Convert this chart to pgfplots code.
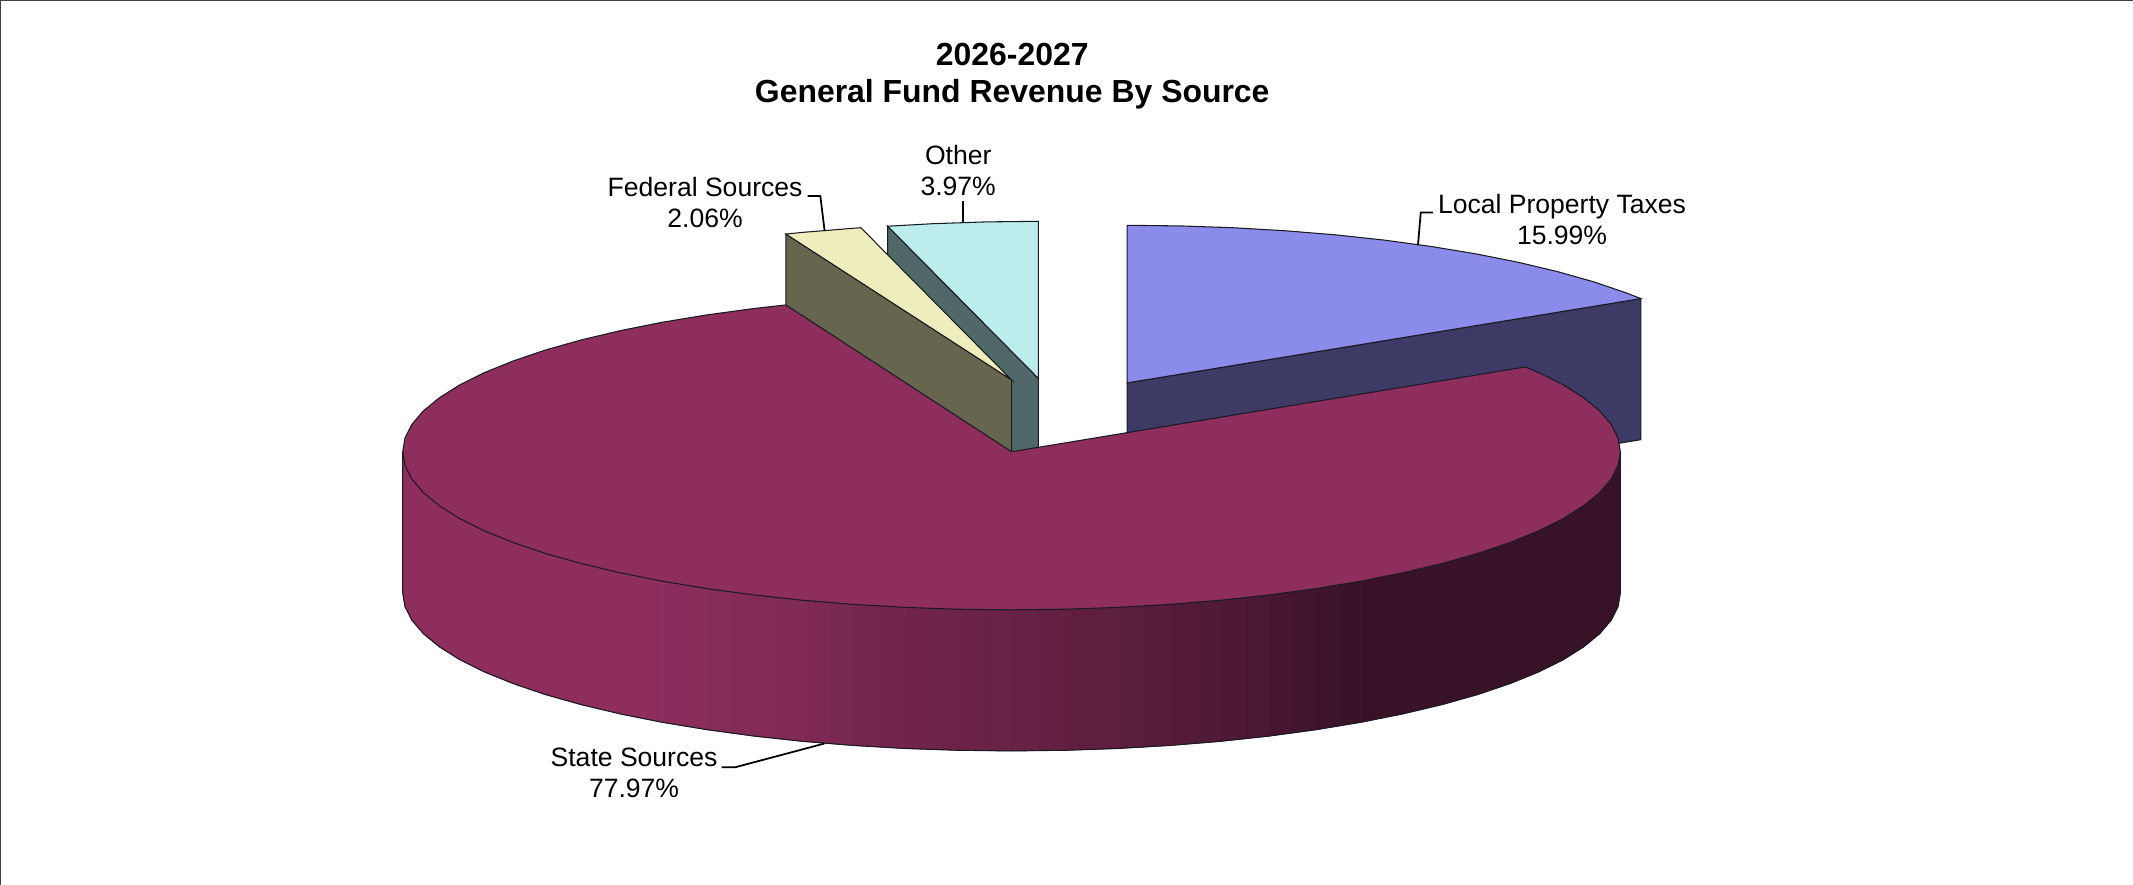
\documentclass[border=0pt]{standalone}
\usepackage{fontspec}
\setmainfont{Liberation Sans}
\usepackage{pgfplots}
\pgfplotsset{compat=1.18}

% Slice colours: top faces and side walls
\definecolor{stateTop}{HTML}{8D2E5D}
\definecolor{stateDark}{HTML}{381226}
\definecolor{localTop}{HTML}{8B8BEC}
\definecolor{localSide}{HTML}{3D3B66}
\definecolor{fedTop}{HTML}{EEEEBC}
\definecolor{fedSide}{HTML}{66664F}
\definecolor{otherTop}{HTML}{BCECEC}
\definecolor{otherSide}{HTML}{506868}
\definecolor{edge}{HTML}{1A1A22}

\tikzset{
  slice/.style={draw=edge, line width=0.3pt},
  leader/.style={draw=black, line width=0.5pt},
  lbl/.style={font=\fontsize{7.55}{8.9}\selectfont, align=center, inner sep=0pt},
}

% One vertical strip of the shaded rim of the large slice: #1 = share of the light colour
\newcommand{\rimstrip}[2]{%
  \addplot[draw=stateTop!#1!stateDark, fill=stateTop!#1!stateDark, line width=0.2pt]
    coordinates {#2} -- cycle;}

\begin{document}
\begin{tikzpicture}
\begin{axis}[
  scale only axis, width=21.34cm, height=8.85cm,
  xmin=0, xmax=2134, ymin=0, ymax=885, y dir=reverse,
  hide axis, no markers,
]
% Chart frame
\addplot[draw=black!75, line width=0.4pt] coordinates {(1.5,885)(1.5,1.5)(2132.5,1.5)};
\addplot[draw=black!15, line width=0.4pt] coordinates {(2133,1.5)(2133,885)};

% Other, 3.97%
\addplot[slice, fill=otherSide] coordinates {(888.0,226.9)(1038.6,379)(1038.6,520)(888.0,368)} -- cycle;
\addplot[slice, fill=otherTop] coordinates {(1038.6,379)(888.0,226.9)(932.9,224.4)(985.6,222.6)(1038.6,222)} -- cycle;

% Federal Sources, 2.06%
\addplot[slice, fill=fedSide] coordinates {(786.3,234.75)(1011.8,380.5)(1011.8,521.5)(786.3,375.75)} -- cycle;
\addplot[slice, fill=fedTop] coordinates {(1011.8,380.5)(786.3,234.75)(803.7,233)(854.3,228.9)(861.2,228.4)} -- cycle;

% Local Property Taxes, 15.99%
\addplot[slice, fill=localSide] coordinates {(1127.3,383.5)(1640.8,299.25)(1640.8,440.25)(1127.3,524.5)} -- cycle;
\addplot[slice, fill=localTop] coordinates {(1127.3,383.5)(1127.3,226)(1180.3,226.6)(1233.0,228.4)(1284.8,231.4)
  (1335.4,235.5)(1384.5,240.8)(1431.6,247.2)(1476.3,254.6)(1518.4,263)(1557.6,272.3)(1593.4,282.4)(1625.8,293.4)(1640.8,299.25)} -- cycle;

% State Sources, 77.97%: rim, dark part on the right
\rimstrip{0}{(1620.3,452.3)(1618.0,466.1)(1611.1,479.7)(1599.6,493.2)(1583.6,506.3)(1563.3,519.1)(1538.8,531.3)(1510.3,542.9)(1477.9,553.9)(1442.1,564.0)(1402.9,573.3)(1381.85,577.5)
  (1381.85,718.5)(1402.9,714.3)(1442.1,705.0)(1477.9,694.9)(1510.3,683.9)(1538.8,672.3)(1563.3,660.1)(1583.6,647.3)(1599.6,634.2)(1611.1,620.7)(1618.0,607.1)(1620.3,593.3)}
% Rim, graded strips towards the light side
\rimstrip{1}{(1381.85,577.5)(1360.8,581.7)(1360.8,722.7)(1381.85,718.5)}
\rimstrip{4}{(1360.8,581.7)(1338.45,585.4)(1338.45,726.4)(1360.8,722.7)}
\rimstrip{8}{(1338.45,585.4)(1316.1,589.1)(1316.1,730.1)(1338.45,726.4)}
\rimstrip{12}{(1316.1,589.1)(1292.55,592.3)(1292.55,733.3)(1316.1,730.1)}
\rimstrip{16}{(1292.55,592.3)(1269.0,595.5)(1269.0,736.5)(1292.55,733.3)}
\rimstrip{21}{(1269.0,595.5)(1244.45,598.15)(1244.45,739.15)(1269.0,736.5)}
\rimstrip{25}{(1244.45,598.15)(1219.9,600.8)(1219.9,741.8)(1244.45,739.15)}
\rimstrip{29}{(1219.9,600.8)(1194.6,602.85)(1194.6,743.85)(1219.9,741.8)}
\rimstrip{33}{(1194.6,602.85)(1169.3,604.9)(1169.3,745.9)(1194.6,743.85)}
\rimstrip{37}{(1169.3,604.9)(1143.4,606.4)(1143.4,747.4)(1169.3,745.9)}
\rimstrip{42}{(1143.4,606.4)(1117.5,607.9)(1117.5,748.9)(1143.4,747.4)}
\rimstrip{45}{(1117.5,607.9)(1091.15,608.8)(1091.15,749.8)(1117.5,748.9)}
\rimstrip{48}{(1091.15,608.8)(1064.8,609.7)(1064.8,750.7)(1091.15,749.8)}
\rimstrip{51}{(1064.8,609.7)(1038.3,610.0)(1038.3,751.0)(1064.8,750.7)}
\rimstrip{54}{(1038.3,610.0)(1011.8,610.3)(1011.8,751.3)(1038.3,751.0)}
\rimstrip{57}{(1011.8,610.3)(985.3,610.0)(985.3,751.0)(1011.8,751.3)}
\rimstrip{60}{(985.3,610.0)(958.8,609.7)(958.8,750.7)(985.3,751.0)}
\rimstrip{63}{(958.8,609.7)(932.45,608.8)(932.45,749.8)(958.8,750.7)}
\rimstrip{66}{(932.45,608.8)(906.1,607.9)(906.1,748.9)(932.45,749.8)}
\rimstrip{69}{(906.1,607.9)(880.2,606.4)(880.2,747.4)(906.1,748.9)}
\rimstrip{73}{(880.2,606.4)(854.3,604.9)(854.3,745.9)(880.2,747.4)}
\rimstrip{77}{(854.3,604.9)(829.0,602.85)(829.0,743.85)(854.3,745.9)}
\rimstrip{81}{(829.0,602.85)(803.7,600.8)(803.7,741.8)(829.0,743.85)}
\rimstrip{85}{(803.7,600.8)(779.15,598.15)(779.15,739.15)(803.7,741.8)}
\rimstrip{88}{(779.15,598.15)(754.6,595.5)(754.6,736.5)(779.15,739.15)}
\rimstrip{90}{(754.6,595.5)(731.1,592.3)(731.1,733.3)(754.6,736.5)}
\rimstrip{92}{(731.1,592.3)(707.6,589.1)(707.6,730.1)(731.1,733.3)}
\rimstrip{95}{(707.6,589.1)(685.2,585.4)(685.2,726.4)(707.6,730.1)}
\rimstrip{98}{(685.2,585.4)(662.8,581.7)(662.8,722.7)(685.2,726.4)}
% Rim, light part on the left
\rimstrip{100}{(662.8,581.7)(620.7,573.3)(581.5,564.0)(545.7,553.9)(513.4,542.9)(484.8,531.3)(460.3,519.1)(440.0,506.3)(424.0,493.2)(412.5,479.7)(405.6,466.1)(403.3,452.3)
  (403.3,593.3)(405.6,607.1)(412.5,620.7)(424.0,634.2)(440.0,647.3)(460.3,660.1)(484.8,672.3)(513.4,683.9)(545.7,694.9)(581.5,705.0)(620.7,714.3)(662.8,722.7)}
% Rim outline
\addplot[slice] coordinates {(1620.3,452.3)(1620.3,593.3)(1618.0,607.1)(1611.1,620.7)(1599.6,634.2)(1583.6,647.3)(1563.3,660.1)(1538.8,672.3)(1510.3,683.9)(1477.9,694.9)(1442.1,705.0)(1402.9,714.3)(1360.8,722.7)(1316.1,730.1)(1269.0,736.5)(1219.9,741.8)(1169.3,745.9)(1117.5,748.9)(1064.8,750.7)(1011.8,751.3)(958.8,750.7)(906.1,748.9)(854.3,745.9)(803.7,741.8)(754.6,736.5)(707.6,730.1)(662.8,722.7)(620.7,714.3)(581.5,705.0)(545.7,694.9)(513.4,683.9)(484.8,672.3)(460.3,660.1)(440.0,647.3)(424.0,634.2)(412.5,620.7)(405.6,607.1)(403.3,593.3)(403.3,452.3)};

% State Sources, top face
\addplot[slice, fill=stateTop] coordinates {(1011.8,452.3)(1525.3,367.55)(1538.8,373.3)(1563.3,385.5)(1583.6,398.3)(1599.6,411.4)(1611.1,424.9)(1618.0,438.5)(1620.3,452.3)
  (1618.0,466.1)(1611.1,479.7)(1599.6,493.2)(1583.6,506.3)(1563.3,519.1)(1538.8,531.3)(1510.3,542.9)(1477.9,553.9)(1442.1,564.0)(1402.9,573.3)(1360.8,581.7)(1316.1,589.1)(1269.0,595.5)(1219.9,600.8)(1169.3,604.9)(1117.5,607.9)(1064.8,609.7)(1011.8,610.3)
  (958.8,609.7)(906.1,607.9)(854.3,604.9)(803.7,600.8)(754.6,595.5)(707.6,589.1)(662.8,581.7)(620.7,573.3)(581.5,564.0)(545.7,553.9)(513.4,542.9)(484.8,531.3)(460.3,519.1)(440.0,506.3)(424.0,493.2)(412.5,479.7)(405.6,466.1)(403.3,452.3)
  (405.6,438.5)(412.5,424.9)(424.0,411.4)(440.0,398.3)(460.3,385.5)(484.8,373.3)(513.4,361.7)(545.7,350.7)(581.5,340.6)(620.7,331.3)(662.8,322.9)(707.6,315.5)(754.6,309.1)(786.3,305.55)} -- cycle;

% Leader lines
\addplot[leader] coordinates {(1433,213.3)(1420.8,213.3)(1418,246)};
\addplot[leader] coordinates {(808,196.7)(820.7,196.7)(825,231.7)};
\addplot[leader] coordinates {(963.6,201.7)(963.6,223)};
\addplot[leader] coordinates {(722,767.7)(735.4,767.7)(824.6,744)};

% Title and slice labels
\node[font=\fontsize{9.08}{10.45}\selectfont\bfseries, align=center, inner sep=0pt] at (axis cs:1012.5,77) {2026-2027\\General Fund Revenue By Source};
\node[lbl] at (axis cs:1562,220.5) {Local Property Taxes\\15.99\%};
\node[lbl] at (axis cs:705.5,203.5) {Federal Sources\\2.06\%};
\node[lbl] at (axis cs:958.5,171) {Other\\3.97\%};
\node[lbl] at (axis cs:634.5,773) {State Sources\\77.97\%};
\end{axis}
\end{tikzpicture}
\end{document}
